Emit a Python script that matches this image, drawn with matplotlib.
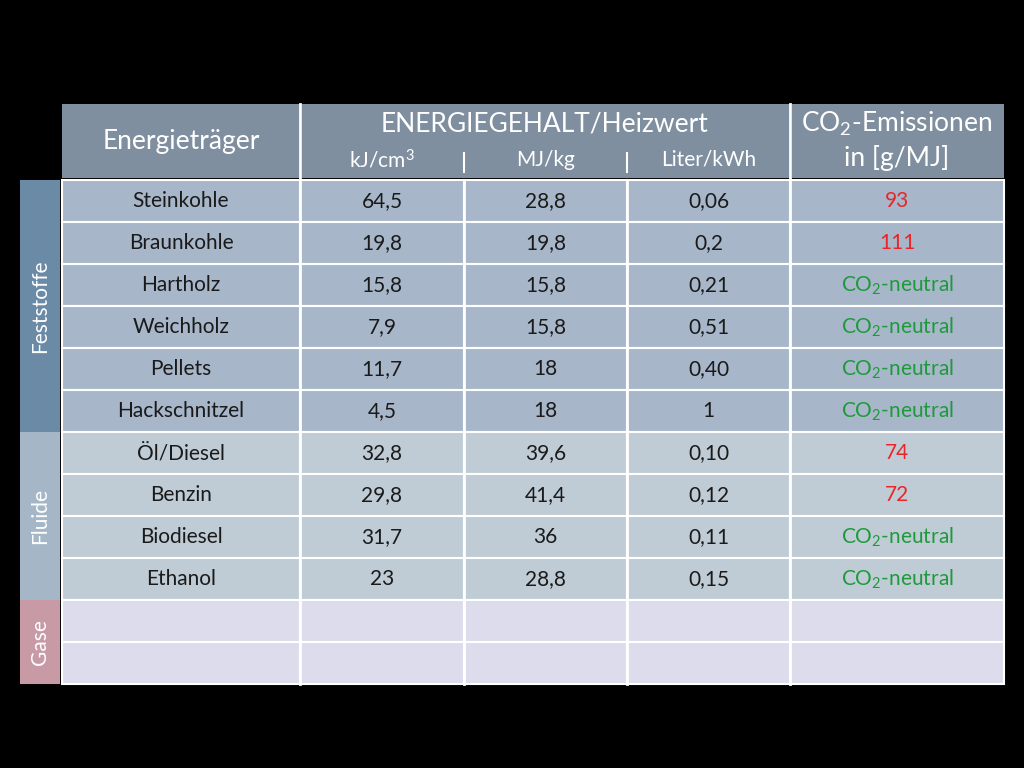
import matplotlib
matplotlib.use("Agg")
import matplotlib.pyplot as plt
from matplotlib.patches import Rectangle

plt.rcParams['font.family'] = 'Lato'
plt.rcParams['mathtext.fontset'] = 'custom'
plt.rcParams['mathtext.rm'] = 'Lato'
plt.rcParams['mathtext.it'] = 'Lato'

carriers = ["Steinkohle", "Braunkohle", "Hartholz", "Weichholz", "Pellets", "Hackschnitzel",
            "Öl/Diesel", "Benzin", "Biodiesel", "Ethanol", "", ""]
kj_cm3 = ["64,5", "19,8", "15,8", "7,9", "11,7", "4,5", "32,8", "29,8", "31,7", "23", "", ""]
mj_kg = ["28,8", "19,8", "15,8", "15,8", "18", "18", "39,6", "41,4", "36", "28,8", "", ""]
liter_kwh = ["0,06", "0,2", "0,21", "0,51", "0,40", "1", "0,10", "0,12", "0,11", "0,15", "", ""]
co2 = ["93", "111", "N", "N", "N", "N", "74", "72", "N", "N", "", ""]
groups = [("Feststoffe", 6, "#6a8aa6", "#a7b6c9"), ("Fluide", 4, "#a5b7c7", "#c0ccd5"), ("Gase", 2, "#c79aa5", "#dcdced")]

fig = plt.figure(figsize=(10.24, 7.68), dpi=100, facecolor='black')
ax = fig.add_axes([0, 0, 1, 1])
ax.set_xlim(0, 1024); ax.set_ylim(768, 0); ax.axis('off')
ax.set_facecolor('black')

col_edges = [62, 300, 464, 627, 790, 1004]
row_top, row_h, head_top = 180, 42, 104
hdr = "#7f8fa0"
txt = "#1a1a1a"
# header
ax.add_patch(Rectangle((col_edges[0], head_top), col_edges[1]-col_edges[0], row_top-head_top-2, fc=hdr, ec='none'))
ax.add_patch(Rectangle((col_edges[1]+2, head_top), col_edges[4]-col_edges[1]-2, row_top-head_top-2, fc=hdr, ec='none'))
ax.add_patch(Rectangle((col_edges[4]+2, head_top), col_edges[5]-col_edges[4]-2, row_top-head_top-2, fc=hdr, ec='none'))
ax.text((col_edges[0]+col_edges[1])/2, 142, "Energieträger", color='white', fontsize=19, ha='center', va='center')
ax.text((col_edges[1]+col_edges[4])/2, 124, "ENERGIEGEHALT/Heizwert", color='white', fontsize=19, ha='center', va='center')
for i, s in enumerate(["kJ/cm$^3$", "MJ/kg", "Liter/kWh"]):
    ax.text((col_edges[1+i]+col_edges[2+i])/2, 160, s, color='white', fontsize=15, ha='center', va='center')
for x in col_edges[2:4]:
    ax.plot([x, x], [153, 172], color='white', lw=1.5)
ax.text((col_edges[4]+col_edges[5])/2, 124, "CO$_2$-Emissionen", color='white', fontsize=19, ha='center', va='center')
ax.text((col_edges[4]+col_edges[5])/2, 158, "in [g/MJ]", color='white', fontsize=19, ha='center', va='center')

r = 0
for name, n, side, fill in groups:
    y0 = row_top + r*row_h
    ax.add_patch(Rectangle((20, y0), 40, n*row_h, fc=side, ec='none'))
    ax.text(40, y0+n*row_h/2, name, rotation=90, color='white', fontsize=15, ha='center', va='center')
    for k in range(n):
        y = y0 + k*row_h
        for c in range(5):
            ax.add_patch(Rectangle((col_edges[c], y), col_edges[c+1]-col_edges[c], row_h,
                                   fc=fill, ec='white', lw=1.5))
        vals = [carriers[r+k], kj_cm3[r+k], mj_kg[r+k], liter_kwh[r+k]]
        for c, v in enumerate(vals):
            ax.text((col_edges[c]+col_edges[c+1])/2, y+row_h/2, v, color=txt, fontsize=15, ha='center', va='center')
        v = co2[r+k]
        if v == "N":
            ax.text((col_edges[4]+col_edges[5])/2, y+row_h/2, "CO$_2$-neutral", color='#1e9a3c', fontsize=15, ha='center', va='center')
        elif v:
            ax.text((col_edges[4]+col_edges[5])/2, y+row_h/2, v, color='#e8262a', fontsize=15, ha='center', va='center')
    r += n
for i, x in enumerate(col_edges[1:5]):
    top = head_top if i in (0, 3) else row_top
    ax.plot([x, x], [top, row_top + r*row_h], color='white', lw=2)

fig.savefig("out.png", dpi=100, facecolor='black')
